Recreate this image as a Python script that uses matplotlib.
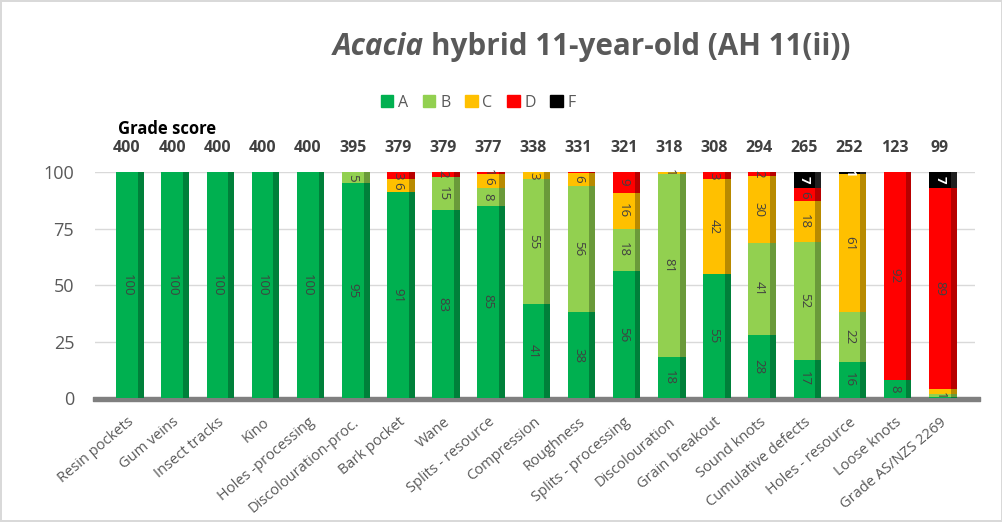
import matplotlib
matplotlib.use("Agg")
import matplotlib.pyplot as plt
from matplotlib.patches import Patch
import numpy as np

plt.rcParams['font.family'] = ['Open Sans', 'DejaVu Sans']

categories = ["Resin pockets", "Gum veins", "Insect tracks", "Kino", "Holes -processing",
              "Discolouration-proc.", "Bark pocket", "Wane", "Splits - resource", "Compression",
              "Roughness", "Splits - processing", "Discolouration", "Grain breakout", "Sound knots",
              "Cumulative defects", "Holes - resource", "Loose knots", "Grade AS/NZS 2269"]
scores = [400, 400, 400, 400, 400, 395, 379, 379, 377, 338, 331, 321, 318, 308, 294, 265, 252, 123, 99]

grade_A = [100, 100, 100, 100, 100, 95, 91, 83, 85, 41.4, 38, 56.4, 18, 55, 28, 17, 16, 8, 0.6]
grade_B = [0, 0, 0, 0, 0, 5, 0, 15, 8, 55.4, 56, 18.3, 81, 0, 40.6, 52, 22, 0, 1]
grade_C = [0, 0, 0, 0, 0, 0, 6, 0, 6, 3.2, 5.6, 16.2, 1, 42, 29.6, 18, 61, 0, 2.4]
grade_D = [0, 0, 0, 0, 0, 0, 3, 2, 1, 0, 0.4, 9.1, 0, 3, 1.8, 6, 0, 92, 89]
grade_F = [0, 0, 0, 0, 0, 0, 0, 0, 0, 0, 0, 0, 0, 0, 0, 7, 1, 0, 7]

grades = ["A", "B", "C", "D", "F"]
series = [grade_A, grade_B, grade_C, grade_D, grade_F]
colors = ["#00B050", "#92D050", "#FFC000", "#FF0000", "#000000"]
side_colors = ["#00803a", "#6a9a3a", "#b88a00", "#b80000", "#202020"]
label_colors = ["#404040", "#404040", "#404040", "#404040", "#ffffff"]

fig = plt.figure(figsize=(10.03, 5.22), dpi=100)
fig.patch.set_edgecolor("#d9d9d9")
fig.patch.set_linewidth(1.5)
ax = fig.add_axes([0.0947, 0.2375, 0.877, 0.433])

x = np.arange(len(categories))
w = 0.48
sw = 0.13
bottom = np.zeros(len(categories))
last_label = np.full(len(categories), -10.0)
for vals, c, sc, lc in zip(series, colors, side_colors, label_colors):
    vals = np.array(vals, dtype=float)
    ax.bar(x, vals, w, bottom=bottom, color=c, linewidth=0, zorder=3, clip_on=False)
    ax.bar(x + w / 2 + sw / 2, vals, sw, bottom=bottom, color=sc, linewidth=0, zorder=3, clip_on=False)
    for i, (xi, v, b) in enumerate(zip(x, vals, bottom)):
        yc = b + v / 2
        if v >= 0.9 and yc - last_label[i] > 2.5:
            ax.text(xi, yc, "%d" % round(v), rotation=270, ha="center", va="center",
                    fontsize=9.5, color=lc, zorder=5, fontweight="bold" if lc == "#ffffff" else "normal")
            last_label[i] = yc
    bottom += vals

# floor
ax.fill_between([-0.75, 18.9], [-1.2, -1.2], [0.6, 0.6], color="#7f7f7f", zorder=2, clip_on=False)

ax.set_xlim(-0.71, 18.77)
ax.set_ylim(0, 100)
ax.set_yticks([0, 25, 50, 75, 100])
ax.tick_params(axis="y", length=0, labelsize=13, labelcolor="#595959", pad=15)
ax.yaxis.grid(True, color="#d9d9d9", linewidth=1, zorder=0)
ax.set_xticks(x)
ax.set_xticklabels(categories, rotation=40, ha="right", rotation_mode="anchor",
                   fontsize=10.5, color="#595959")
ax.tick_params(axis="x", length=0, pad=12)
for s in ax.spines.values():
    s.set_visible(False)

# grade score row
for xi, s in zip(x, scores):
    ax.text(xi, 1.105, str(s), transform=ax.get_xaxis_transform(), ha="center", va="center",
            fontsize=11.5, fontweight="bold", color="#404040")
ax.text(-0.2, 1.19, "Grade score", transform=ax.get_xaxis_transform(), ha="left", va="center",
        fontsize=12, fontweight="bold", color="#000000")

# legend
handles = [Patch(color=c, label=g) for g, c in zip(grades, colors)]
fig.legend(handles=handles, loc="center", bbox_to_anchor=(0.477, 0.803), ncol=5, frameon=False,
           fontsize=11.5, handlelength=0.8, handleheight=0.8, handletextpad=0.3, columnspacing=0.9,
           labelcolor="#595959")

# title with italic genus
t1 = fig.text(0.332, 0.91, "Acacia", fontsize=21.3, fontweight="bold", style="italic",
              color="#595959", ha="left", va="center")
fig.canvas.draw()
bb = t1.get_window_extent()
fig.text(bb.x1 / fig.bbox.width + 0.007, 0.91, "hybrid 11-year-old (AH 11(ii))", fontsize=21.3,
         fontweight="bold", color="#595959", ha="left", va="center")

fig.savefig("out.png", dpi=100)
